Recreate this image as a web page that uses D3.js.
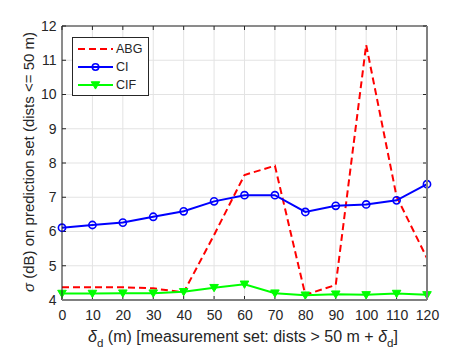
<!DOCTYPE html>
<html><head><meta charset="utf-8">
<script src="https://cdn.jsdelivr.net/npm/d3@7"></script>
<style>body{margin:0;background:#fff}svg{display:block;font-family:"Liberation Sans",Arial,sans-serif}</style>
</head><body>
<svg id="c" width="471" height="353"></svg>
<script>
const deltas = [0,10,20,30,40,50,60,70,80,90,100,110,120];
const abg = [4.37,4.37,4.37,4.34,4.22,5.9,7.65,7.92,4.15,4.44,11.45,7.02,5.22];
const ci  = [6.11,6.19,6.26,6.43,6.59,6.88,7.06,7.06,6.57,6.75,6.79,6.91,7.38];
const cif = [4.19,4.19,4.2,4.2,4.24,4.36,4.46,4.2,4.14,4.17,4.15,4.19,4.15];
const xTicks = [0,10,20,30,40,50,60,70,80,90,100,110,120];
const yTicks = [4,5,6,7,8,9,10,11,12];
const seriesNames = ["ABG","CI","CIF"];

const svg = d3.select("#c");
const x = d3.scaleLinear().domain([0,120]).range([62,427]);
const y = d3.scaleLinear().domain([4,12]).range([300,26]);
const L=62,R=427,T=26,B=300;

// grid
const g = svg.append("g");
g.selectAll(".gx").data(xTicks).join("line")
  .attr("x1",d=>x(d)).attr("x2",d=>x(d)).attr("y1",T).attr("y2",B)
  .attr("stroke","#e3e3e3").attr("stroke-width",1);
g.selectAll(".gy").data(yTicks).join("line")
  .attr("y1",d=>y(d)).attr("y2",d=>y(d)).attr("x1",L).attr("x2",R)
  .attr("stroke","#e3e3e3").attr("stroke-width",1);

// axes
const xAxis = d3.axisBottom(x).tickValues(xTicks).tickSize(0).tickPadding(10).tickFormat(d3.format("d"));
const yAxis = d3.axisLeft(y).tickValues(yTicks).tickSize(0).tickPadding(5.5).tickFormat(d3.format("d"));
const ax = svg.append("g").attr("transform",`translate(0,${B})`).call(xAxis);
const ay = svg.append("g").attr("transform",`translate(${L},0)`).call(yAxis);
[ax,ay].forEach(a=>{
  a.select(".domain").remove();
  a.selectAll("text").attr("fill","#262626").style("font-size","14px").style("font-family","Liberation Sans, Arial, sans-serif");
});
// inward ticks
const tk = svg.append("g").attr("stroke","#262626").attr("stroke-width",1);
xTicks.forEach(d=>{
  tk.append("line").attr("x1",x(d)).attr("x2",x(d)).attr("y1",B).attr("y2",B-4);
  tk.append("line").attr("x1",x(d)).attr("x2",x(d)).attr("y1",T).attr("y2",T+4);
});
yTicks.forEach(d=>{
  tk.append("line").attr("y1",y(d)).attr("y2",y(d)).attr("x1",L).attr("x2",L+4);
  tk.append("line").attr("y1",y(d)).attr("y2",y(d)).attr("x1",R).attr("x2",R-4);
});

// lines
const line = d3.line().x((d,i)=>x(deltas[i])).y(d=>y(d));
const plot = svg.append("g");
plot.append("path").datum(abg).attr("d",line).attr("fill","none")
  .attr("stroke","#ff0000").attr("stroke-width",2).attr("stroke-dasharray","7,4");
plot.append("path").datum(ci).attr("d",line).attr("fill","none")
  .attr("stroke","#0000ff").attr("stroke-width",2);
plot.append("path").datum(cif).attr("d",line).attr("fill","none")
  .attr("stroke","#00ff00").attr("stroke-width",2);
plot.selectAll(".ci").data(ci).join("circle")
  .attr("cx",(d,i)=>x(deltas[i])).attr("cy",d=>y(d)).attr("r",3.6)
  .attr("fill","none").attr("stroke","#0000ff").attr("stroke-width",1.6);
const tri = (cx,cy,s)=>`M${cx-s},${cy-s*0.75}L${cx+s},${cy-s*0.75}L${cx},${cy+s*0.95}Z`;
plot.selectAll(".cif").data(cif).join("path")
  .attr("d",(d,i)=>tri(x(deltas[i]),y(d),4.3))
  .attr("fill","#00ff00").attr("stroke","#00ff00").attr("stroke-width",1);

// box
svg.append("line").attr("x1",L).attr("x2",R).attr("y1",T).attr("y2",T).attr("stroke","#262626");
svg.append("line").attr("x1",L).attr("x2",L).attr("y1",T).attr("y2",B).attr("stroke","#262626");
svg.append("line").attr("x1",L).attr("x2",R).attr("y1",B).attr("y2",B).attr("stroke","#808080").attr("stroke-width",2);
svg.append("line").attr("x1",R).attr("x2",R).attr("y1",T).attr("y2",B).attr("stroke","#808080").attr("stroke-width",2);

// legend
const lg = svg.append("g");
lg.append("rect").attr("x",72.5).attr("y",37.5).attr("width",76).attr("height",58)
  .attr("fill","#fff").attr("stroke","#262626").attr("stroke-width",1);
const ly = [49,67,85];
const colors = ["#ff0000","#0000ff","#00ff00"];
seriesNames.forEach((n,i)=>{
  const l = lg.append("line").attr("x1",78).attr("x2",113).attr("y1",ly[i]).attr("y2",ly[i])
    .attr("stroke",colors[i]).attr("stroke-width",2);
  if(i===0) l.attr("stroke-dasharray","7,4");
  if(i===1) lg.append("circle").attr("cx",95.5).attr("cy",ly[i]).attr("r",3.2).attr("fill","none").attr("stroke",colors[i]).attr("stroke-width",1.6);
  if(i===2) lg.append("path").attr("d",tri(95.5,ly[i],4.3)).attr("fill",colors[i]).attr("stroke",colors[i]);
  lg.append("text").attr("x",116).attr("y",ly[i]+4.3).text(n)
    .attr("fill","#262626").style("font-size","12.5px");
});

// x label
const xl = svg.append("text").attr("x",243).attr("y",341.5).attr("text-anchor","middle")
  .attr("fill","#262626").style("font-size","16px");
xl.append("tspan").attr("font-style","italic").text("δ");
xl.append("tspan").attr("dy",5).style("font-size","11.5px").text("d");
xl.append("tspan").attr("dy",-5).text(" (m) [measurement set: dists > 50 m + ");
xl.append("tspan").attr("font-style","italic").text("δ");
xl.append("tspan").attr("dy",5).style("font-size","11.5px").text("d");
xl.append("tspan").attr("dy",-5).text("]");

// y label
const yl = svg.append("text").attr("transform",`translate(33.5,${(T+B)/2-1}) rotate(-90)`)
  .attr("text-anchor","middle").attr("fill","#262626").style("font-size","15px");
yl.append("tspan").attr("font-style","italic").text("σ");
yl.append("tspan").text(" (dB) on prediction set (dists <= 50 m)");
</script>
</body></html>
